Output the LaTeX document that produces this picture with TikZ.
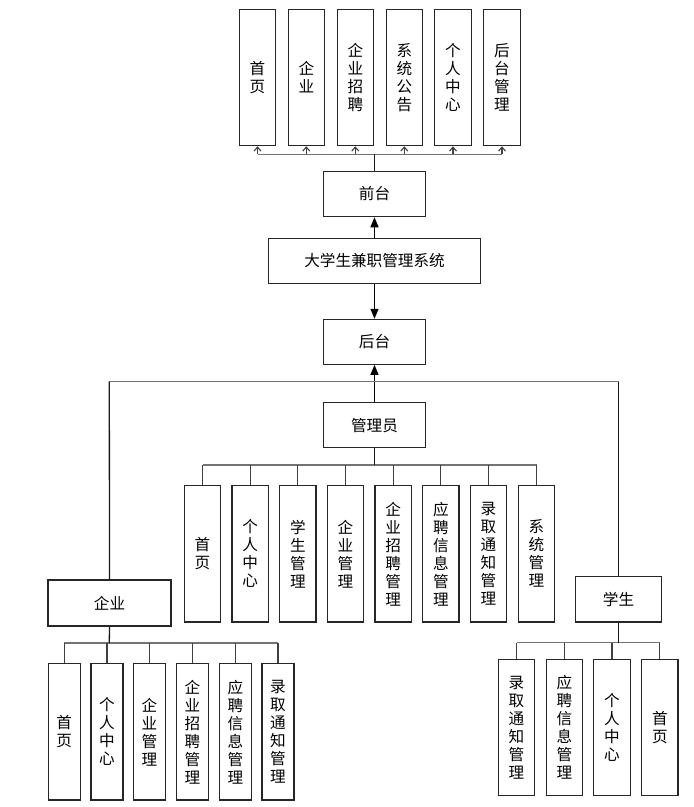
\documentclass[tikz,border=0pt]{standalone}
\usepackage{fontspec}
\setmainfont{Noto Sans CJK SC}
\usetikzlibrary{arrows.meta}
\tikzset{
  boxbase/.style={draw=black!85, line width=1.1pt, fill=white, inner sep=0pt, align=center,
    font=\fontsize{15.6}{18}\selectfont},
  vbox/.style={boxbase, minimum width=36.4pt, minimum height=136.4pt},
  nbox/.style={boxbase, minimum width=32pt, minimum height=136.4pt},
  hbox/.style={boxbase, minimum height=45.4pt},
  busline/.style={draw=black!55, line width=1.3pt},
  trunk/.style={draw=black!90, line width=1.3pt},
  stub/.style={draw=black!75, line width=1.1pt},
  openarr/.style={-{Straight Barb[width=7pt,length=4pt]}},
  fillarr/.style={-{Triangle[width=8pt,length=10pt]}, draw=black, line width=1.3pt},
}
\begin{document}
\begin{tikzpicture}[x=1pt,y=-1pt]
\useasboundingbox (0,0) rectangle (694,807);
% top boxes
\node[vbox] (t1) at (257.5,77.5) {首\\页};
\node[vbox] (t2) at (306.3,77.5) {企\\业};
\node[vbox] (t3) at (355.3,77.5) {企\\业\\招\\聘};
\node[vbox] (t4) at (404.3,77.5) {系\\统\\公\\告};
\node[vbox] (t5) at (453,77.5) {个\\人\\中\\心};
\node[vbox] (t6) at (502,77.5) {后\\台\\管\\理};
% main column
\node[hbox, minimum width=102.4pt] (qt) at (374.5,194) {前台};
\node[hbox, minimum width=212.4pt, minimum height=45pt] (sys) at (374.5,260.8) {大学生兼职管理系统};
\node[hbox, minimum width=102.4pt, minimum height=45pt] (ht) at (374.5,341.8) {后台};
\node[hbox, minimum width=102.4pt, minimum height=45pt] (adm) at (374.5,425.2) {管理员};
% admin children
\node[vbox] (a1) at (202.5,553.8) {首\\页};
\node[vbox] (a2) at (250.2,553.8) {个\\人\\中\\心};
\node[vbox] (a3) at (297.8,553.8) {学\\生\\管\\理};
\node[vbox] (a4) at (345.5,553.8) {企\\业\\管\\理};
\node[vbox] (a5) at (393.2,553.8) {企\\业\\招\\聘\\管\\理};
\node[vbox] (a6) at (440.8,553.8) {应\\聘\\信\\息\\管\\理};
\node[vbox] (a7) at (488.5,553.8) {录\\取\\通\\知\\管\\理};
\node[vbox] (a8) at (536.5,553.8) {系\\统\\管\\理};
% enterprise
\node[hbox, minimum width=123pt, minimum height=46pt] (qy) at (109.5,603) {企业};
\node[nbox] (e1) at (64.2,731.8) {首\\页};
\node[nbox] (e2) at (107,731.8) {个\\人\\中\\心};
\node[nbox] (e3) at (149.5,731.8) {企\\业\\管\\理};
\node[nbox] (e4) at (192.5,731.8) {企\\业\\招\\聘\\管\\理};
\node[nbox] (e5) at (235.5,731.8) {应\\聘\\信\\息\\管\\理};
\node[nbox] (e6) at (278,731.8) {录\\取\\通\\知\\管\\理};
% student
\node[hbox, minimum width=85.6pt, minimum height=45.3pt] (xs) at (618.5,599.3) {学生};
\node[vbox] (s1) at (516.5,727.7) {录\\取\\通\\知\\管\\理};
\node[vbox] (s2) at (564.3,727.7) {应\\聘\\信\\息\\管\\理};
\node[vbox] (s3) at (612,727.7) {个\\人\\中\\心};
\node[vbox] (s4) at (659.8,727.7) {首\\页};
% bus coordinates
\coordinate (tb) at (374.5,154.3);
\coordinate (ab) at (374.5,465);
\coordinate (eb) at (109.3,643);
\coordinate (sb) at (618.5,642.7);
\coordinate (bl) at (109.3,381.7);
\coordinate (br) at (618.5,381.7);
% top bus
\draw[busline] (t1.south |- tb) -- (t6.south |- tb);
\draw[trunk] (qt.north) -- (tb);
\foreach \n in {t1,t2,t3,t4,t5,t6} \draw[stub,openarr] (\n.south |- tb) -- (\n.south);
% main arrows
\draw[fillarr] (sys.north) -- (qt.south);
\draw[fillarr] (sys.south) -- (ht.north);
\draw[fillarr] (adm.north) -- (ht.south);
% big line
\draw[busline] (bl) -- (br);
\draw[trunk] (bl) -- (qy.north);
\draw[trunk] (br) -- (xs.north);
% admin bus
\draw[busline] (a1.north |- ab) -- (a8.north |- ab);
\draw[trunk] (adm.south) -- (ab);
\foreach \n in {a1,a2,a3,a4,a5,a6,a7,a8} \draw[stub] (\n.north |- ab) -- (\n.north);
% enterprise bus
\draw[busline] (e1.north |- eb) -- (e6.north |- eb);
\draw[trunk] (qy.south) -- (eb);
\foreach \n in {e1,e2,e3,e4,e5,e6} \draw[stub] (\n.north |- eb) -- (\n.north);
% student bus
\draw[busline] (s1.north |- sb) -- (s4.north |- sb);
\draw[trunk] (xs.south) -- (sb);
\foreach \n in {s1,s2,s3,s4} \draw[stub] (\n.north |- sb) -- (\n.north);
\end{tikzpicture}
\end{document}
